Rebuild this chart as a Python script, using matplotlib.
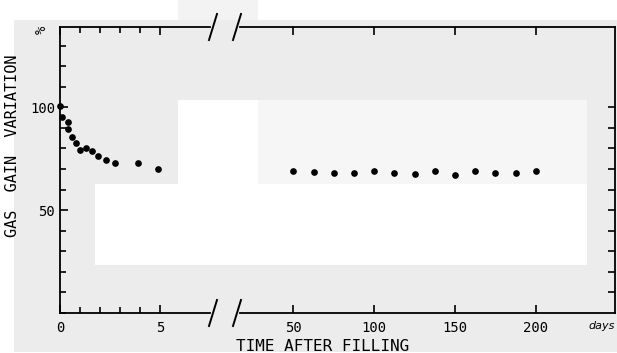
import matplotlib
matplotlib.use('Agg')
import matplotlib.pyplot as plt
from matplotlib.patches import Rectangle
from matplotlib.ticker import MultipleLocator, FixedLocator

# early days (left part of the broken axis)
days_early = [0.0, 0.1, 0.4, 0.4, 0.6, 0.8, 1.0, 1.3, 1.6, 1.9, 2.3, 2.75, 3.9, 4.9]
gain_early = [100.5, 95.5, 93.0, 89.5, 85.5, 82.5, 79.0, 80.0, 78.5, 76.5, 74.5, 73.0, 73.0, 70.0]

# long term (right part)
days_late = [50, 62.5, 75, 87.5, 100, 112.5, 125, 137.5, 150, 162.5, 175, 187.5, 200]
gain_late = [69.0, 68.4, 68.1, 67.8, 69.1, 68.1, 67.5, 69.1, 67.3, 68.9, 68.1, 68.1, 69.1]

W, H = 617, 353
FONT = 'DejaVu Sans Mono'

fig = plt.figure(figsize=(W / 100, H / 100), dpi=100)
fig.patch.set_facecolor('white')


def _px_rect(x0, y0, x1, y1, color):
    # rectangle given in image pixels (origin top-left) -> scan background
    r = Rectangle((x0 / W, 1 - y1 / H), (x1 - x0) / W, (y1 - y0) / H,
                  transform=fig.transFigure, color=color, zorder=-10, lw=0)
    fig.add_artist(r)


_px_rect(14, 20, 617, 352, '#ececec')
_px_rect(178, 0, 258, 20, '#f3f3f3')
_px_rect(178, 100, 258, 184, 'white')
_px_rect(258, 100, 587, 184, '#f6f6f6')
_px_rect(95, 184, 587, 265, 'white')

bottom = (H - 313) / H
height = (313 - 27) / H
ax1 = fig.add_axes([60 / W, bottom, 150 / W, height])
ax2 = fig.add_axes([240 / W, bottom, 375 / W, height])

ymax = 139
for ax in (ax1, ax2):
    ax.set_facecolor('none')
    ax.set_ylim(0, ymax)
    for s in ax.spines.values():
        s.set_linewidth(1.3)
    ax.tick_params(direction='in', which='both', width=1.2, labelsize=10,
                   top=True)
    ax.tick_params(which='major', length=6)
    ax.tick_params(which='minor', length=4)

ax1.set_xlim(0, 7.5)
ax2.set_xlim(17, 249)

ax1.plot(days_early, gain_early, 'o', color='black', ms=3.8, clip_on=False)
ax2.plot(days_late, gain_late, 'o', color='black', ms=3.8)

# left part
ax1.spines['right'].set_visible(False)
ax1.set_xticks([0, 5])
ax1.set_xticklabels(['0', '5'])
ax1.xaxis.set_minor_locator(FixedLocator([1, 2, 3, 4]))
ax1.set_yticks([50, 100])
ax1.yaxis.set_minor_locator(MultipleLocator(10))
ax1.tick_params(axis='y', right=False, which='both')
ax1.tick_params(axis='x', pad=6)

# right part
ax2.spines['left'].set_visible(False)
ax2.set_xticks([50, 100, 150, 200])
ax2.tick_params(axis='x', pad=6)
ax2.yaxis.tick_right()
ax2.set_yticks(range(10, 101, 10))
ax2.tick_params(axis='y', which='major', length=5, labelright=False,
                left=False)

for ax in (ax1, ax2):
    for lab in ax.get_xticklabels() + ax.get_yticklabels():
        lab.set_family(FONT)

# break marks
for xb in (213, 237):
    for yb in (27, 313):
        y0 = H - yb
        fig.add_artist(plt.Line2D([(xb - 4) / W, (xb + 4) / W],
                                  [(y0 - 13) / H, (y0 + 13) / H],
                                  transform=fig.transFigure, color='black',
                                  lw=1.4))

fig.text(13 / W, 1 - 146 / H, 'GAS  GAIN  VARIATION', rotation=90,
         ha='center', va='center', fontsize=11, family=FONT)
fig.text(42 / W, 1 - 30 / H, '%', rotation=90, ha='center', va='center',
         fontsize=10, family=FONT)
fig.text(323 / W, 1 - 351 / H, 'TIME AFTER FILLING', ha='center',
         va='baseline', fontsize=11.5, family=FONT)
fig.text(602 / W, 1 - 326 / H, 'days', ha='center', va='center',
         fontsize=8, style='italic')

plt.savefig('out.png', dpi=100)
plt.close()
